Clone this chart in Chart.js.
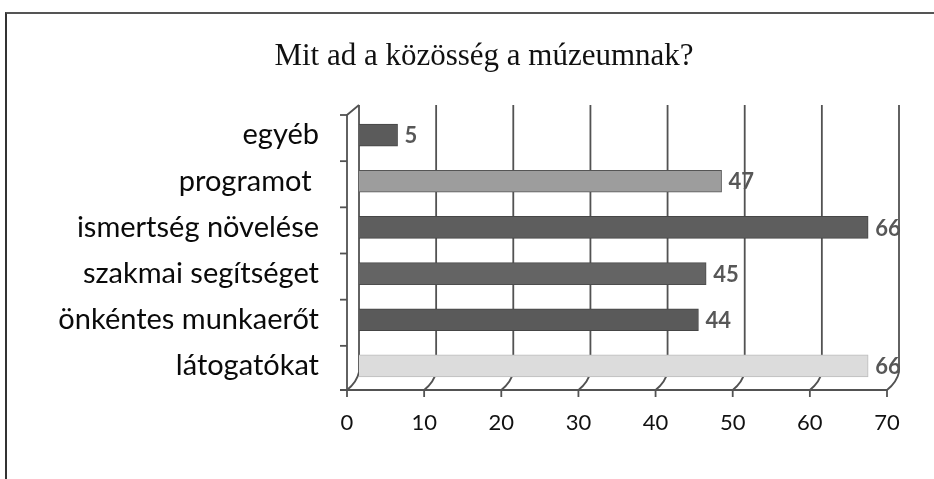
<!DOCTYPE html>
<html><head><meta charset="utf-8">
<script src="https://cdn.jsdelivr.net/npm/chart.js@4.4.1/dist/chart.umd.min.js"></script>
<style>
html,body{margin:0;padding:0;background:#fff;overflow:hidden;}
#wrap{position:relative;width:934px;height:479px;}
#c{position:absolute;left:0;top:0;}
#frame{position:absolute;left:5px;top:12px;width:940px;height:480px;border-left:2px solid #333;border-top:2px solid #555;pointer-events:none;}
</style></head><body>
<div id="wrap"><canvas id="c" width="934" height="479"></canvas><div id="frame"></div></div>
<script>
const titleText = 'Mit ad a közösség a múzeumnak?';
const categories = ['egyéb', 'programot ', 'ismertség növelése', 'szakmai segítséget', 'önkéntes munkaerőt', 'látogatókat'];
const values = [5, 47, 66, 45, 44, 66];
const xTickValues = [0, 10, 20, 30, 40, 50, 60, 70];
const barColors = ['#5b5b5b', '#9d9d9d', '#5e5e5e', '#646464', '#5a5a5a', '#dcdcdc'];
const barBorders = ['#454545', '#555555', '#474747', '#4d4d4d', '#454545', '#bdbdbd'];

const DX = 12, DY = 17;
const wallPlugin = {
  id: 'wall',
  beforeDraw(chart) {
    const { ctx } = chart;
    ctx.save();
    ctx.fillStyle = '#111';
    ctx.font = '31px "Liberation Serif"';
    ctx.textAlign = 'center';
    ctx.textBaseline = 'middle';
    ctx.fillText(titleText, 484, 57);
    ctx.restore();
  },
  beforeDatasetsDraw(chart) {
    const { ctx, chartArea: a, scales: { x, y } } = chart;
    const yT = a.top - 7, yB = a.bottom - DY, yF = a.bottom + 1;
    ctx.save();
    ctx.strokeStyle = '#525252';
    ctx.lineWidth = 1.8;
    xTickValues.forEach(v => {
      const bx = x.getPixelForValue(v), fx = bx - DX;
      ctx.beginPath();
      ctx.moveTo(bx, yT); ctx.lineTo(bx, yB);
      ctx.quadraticCurveTo(bx - 2, yB + 10, fx, yF);
      ctx.stroke();
      ctx.beginPath();
      ctx.moveTo(fx, yF); ctx.lineTo(fx, yF + 7);
      ctx.stroke();
    });
    const f0 = x.getPixelForValue(0) - DX, f70 = x.getPixelForValue(70) - DX;
    ctx.beginPath();
    ctx.moveTo(f0 - 7, yF); ctx.lineTo(f70, yF);
    ctx.stroke();
    ctx.beginPath();
    ctx.moveTo(x.getPixelForValue(0), yT);
    ctx.lineTo(f0, yT + 10);
    ctx.lineTo(f0, yF);
    ctx.stroke();
    const n = categories.length;
    for (let i = 0; i <= n; i++) {
      let yy;
      if (i === 0) yy = yT + 10;
      else if (i === n) yy = yF;
      else yy = (y.getPixelForValue(i - 1) + y.getPixelForValue(i)) / 2 + 3;
      ctx.beginPath();
      ctx.moveTo(f0 - 7, yy); ctx.lineTo(f0, yy);
      ctx.stroke();
    }
    ctx.restore();
  },
  afterDatasetsDraw(chart) {
    const { ctx } = chart;
    const meta = chart.getDatasetMeta(0);
    ctx.save();
    ctx.fillStyle = '#575757';
    ctx.font = 'bold 22px Lato';
    ctx.textAlign = 'left';
    ctx.textBaseline = 'middle';
    meta.data.forEach((bar, i) => {
      ctx.fillText(String(values[i]), bar.x + 7, bar.y + 1);
    });
    ctx.restore();
  }
};

new Chart(document.getElementById('c'), {
  type: 'bar',
  data: {
    labels: categories,
    datasets: [{
      data: values,
      backgroundColor: barColors,
      borderColor: barBorders,
      borderWidth: 1,
      barThickness: 22
    }]
  },
  options: {
    indexAxis: 'y',
    responsive: false,
    animation: false,
    devicePixelRatio: 1,
    layout: { padding: { left: 0, right: 35, top: 112, bottom: 0 } },
    plugins: {
      legend: { display: false },
      tooltip: { enabled: false },
      title: { display: false }
    },
    scales: {
      x: {
        type: 'linear',
        min: 0, max: 70,
        afterBuildTicks(s) { s.ticks = xTickValues.map(v => ({ value: v })); },
        afterFit(s) { s.height = 90; },
        grid: { display: false, drawTicks: false },
        border: { display: false },
        ticks: {
          labelOffset: -DX,
          padding: 21,
          color: '#111',
          font: { family: 'Lato', size: 22 }
        }
      },
      y: {
        afterFit(s) { s.width = 359; },
        grid: { display: false, drawTicks: false },
        border: { display: false },
        ticks: {
          padding: 40,
          color: '#0a0a0a',
          font: { family: 'Lato', size: 29 }
        }
      }
    }
  },
  plugins: [wallPlugin]
});
</script>
</body></html>
